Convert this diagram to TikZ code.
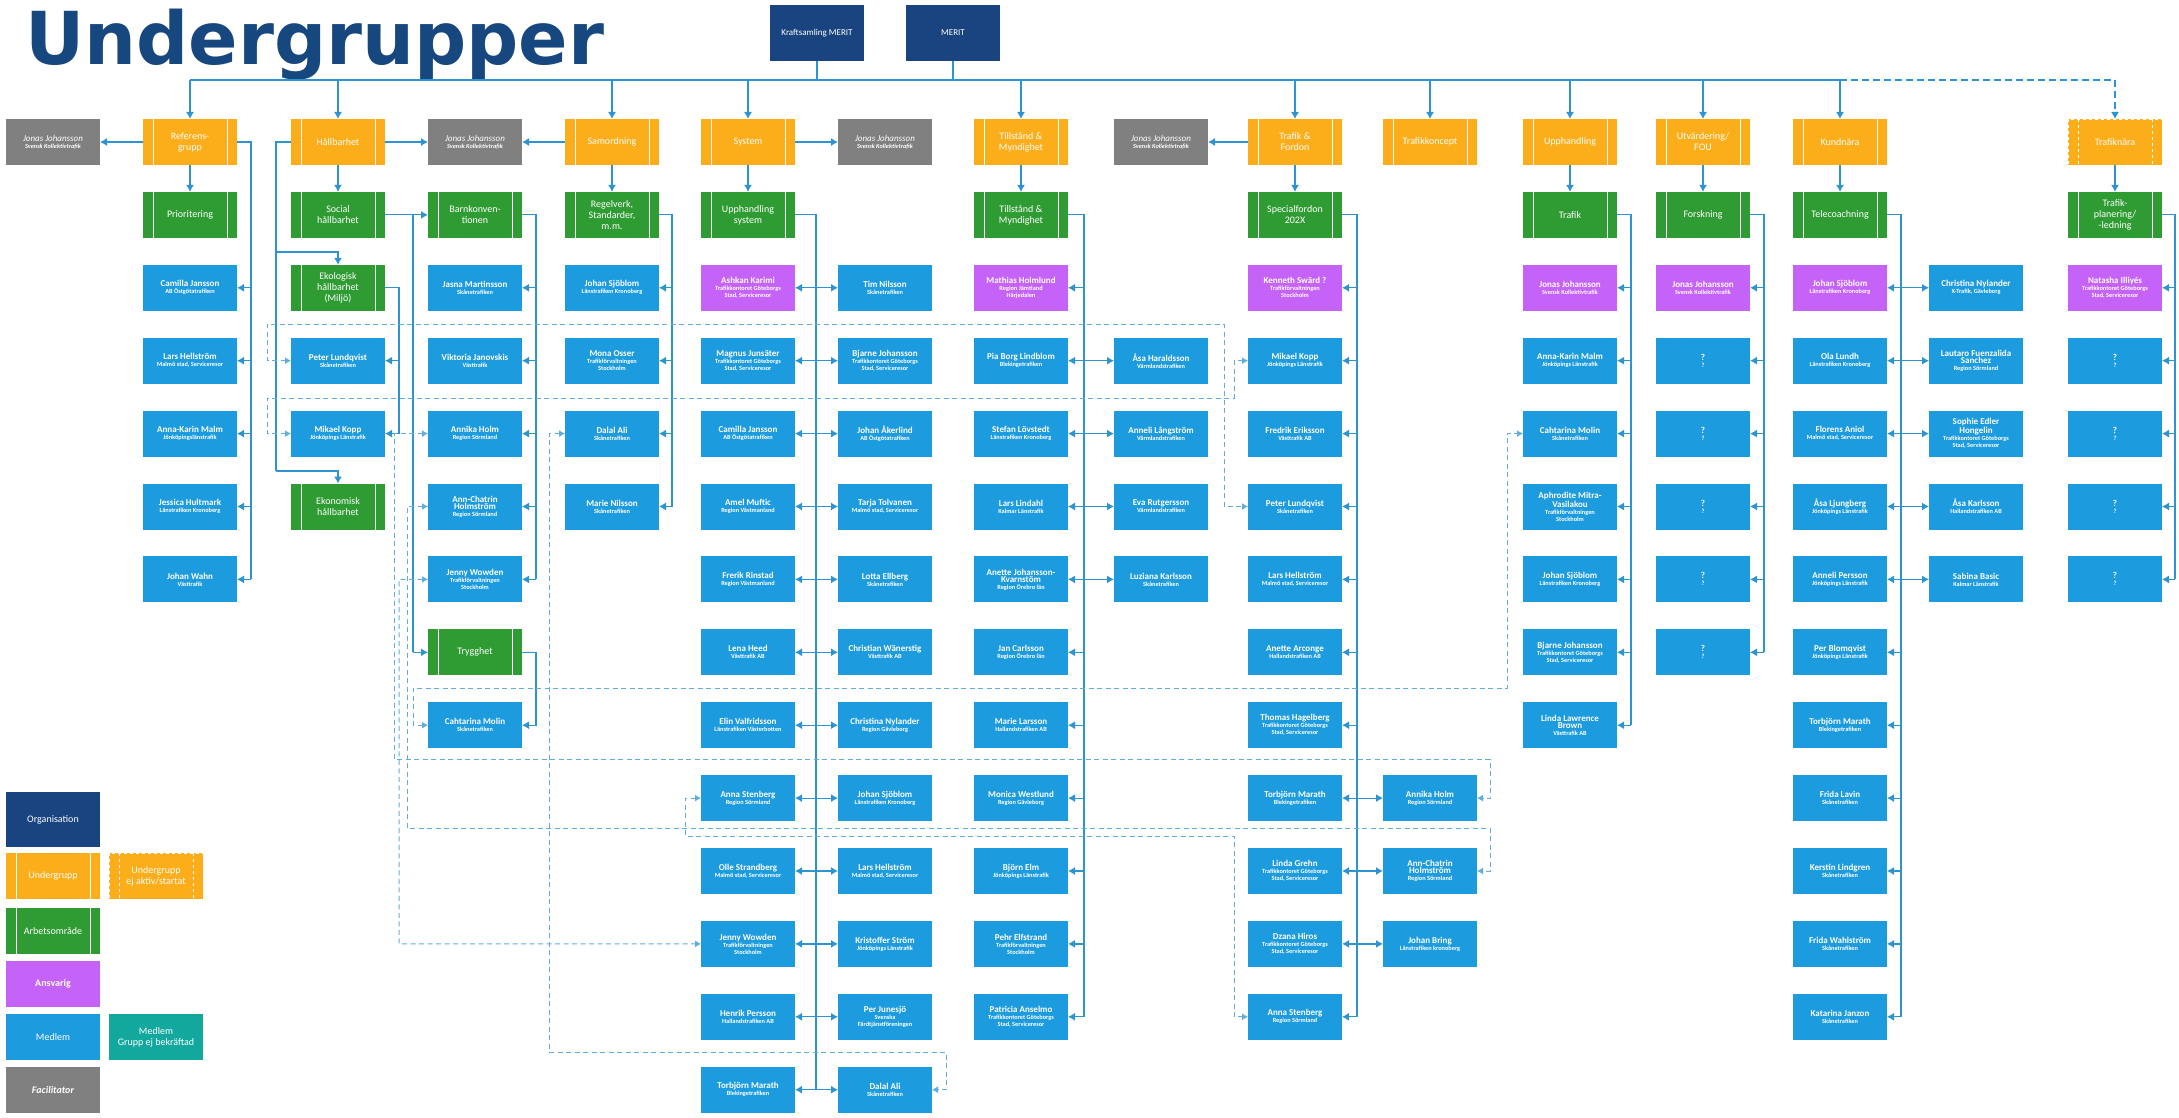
\documentclass[tikz,border=0pt]{standalone}
\usepackage{fontspec}
\setmainfont{Carlito}
\newfontfamily\titlefont{DejaVu Sans}
\usetikzlibrary{arrows.meta}

\definecolor{titleblue}{HTML}{17477F}
\definecolor{orgblue}{HTML}{1A4480}
\definecolor{undorange}{HTML}{FBAD1A}
\definecolor{areagreen}{HTML}{2F9B33}
\definecolor{leadpurple}{HTML}{C562F7}
\definecolor{memblue}{HTML}{1D9BDF}
\definecolor{memteal}{HTML}{13A89E}
\definecolor{facgray}{HTML}{808080}
\definecolor{lineblue}{HTML}{2E93D1}
\definecolor{linkblue}{HTML}{62ADE0}

\newcommand\nm{\fontsize{9}{10}\selectfont}

\begin{document}
\begin{tikzpicture}[x=1pt,y=-1pt,
  box/.style={rectangle,minimum width=94,minimum height=46,inner sep=1pt,outer sep=0pt,
    align=center,text=white,font=\bfseries\fontsize{6.3}{7}\selectfont},
  bars/.style={path picture={\draw[white,line width=.8pt,#1]
    ([xshift=10pt]path picture bounding box.north west) -- ([xshift=10pt]path picture bounding box.south west)
    ([xshift=-10pt]path picture bounding box.north east) -- ([xshift=-10pt]path picture bounding box.south east);}},
  grp/.style={box,fill=undorange,font=\fontsize{10}{11}\selectfont,bars=solid},
  grpoff/.style={box,fill=undorange,draw=white,dashed,line width=.8pt,font=\fontsize{10}{11}\selectfont,bars=dashed},
  area/.style={box,fill=areagreen,font=\fontsize{10}{11}\selectfont,bars=solid},
  mem/.style={box,fill=memblue},
  newmem/.style={box,fill=memteal,font=\fontsize{10}{11}\selectfont},
  lead/.style={box,fill=leadpurple},
  fac/.style={box,fill=facgray,font=\bfseries\itshape\fontsize{6.3}{7}\selectfont},
  orgbox/.style={box,fill=orgblue,minimum height=56,font=\fontsize{9}{10}\selectfont},
  line/.style={draw=lineblue,line width=1.2pt},
  arr/.style={line,-{Latex[length=7pt,width=8pt]}},
  dbl/.style={line,{Latex[length=7pt,width=8pt]}-{Latex[length=7pt,width=8pt]}},
  link/.style={draw=linkblue,line width=1pt,dash pattern=on 5pt off 3.5pt,
    {Latex[length=6pt,width=7pt]}-{Latex[length=6pt,width=7pt]}}]

\fill[white] (0,0) rectangle (2179,1118);
\useasboundingbox (0,0) rectangle (2179,1118);

% grid of columns and rows
\foreach \i/\x in {0/53,1/190,2/338,3/475,4/612,5/748,6/885,7/1021,8/1161,9/1295,10/1430,11/1570,12/1703,13/1840,14/1976,15/2115}
  \coordinate (c\i) at (\x,0);
\foreach \r in {0,...,13}
  \coordinate (r\r) at (0,{142+72.9*\r});
\coordinate (bus) at (0,80);
\foreach \s/\x in {1/251,2/276,2b/399,2c/413,3/536,4/672,5/816,7/1084,9/1357,11/1631,12/1764,13/1901,15/2175}
  \coordinate (sp\s) at (\x,0);

\node[anchor=base west,inner sep=0,text=titleblue,font=\titlefont\bfseries\fontsize{73}{73}\selectfont] (title) at (25,65) {Undergrupper};

% organisation
\node[orgbox] (kraft) at (817,33) {Kraftsamling MERIT};
\node[orgbox] (merit) at (953,33) {MERIT};

% undergrupper
\node[fac] (n0-0) at (c0|-r0) {\nm\mdseries Jonas Johansson\\Svensk Kollektivtrafik};
\node[grp] (n1-0) at (c1|-r0) {Referens-\\grupp};
\node[grp] (n2-0) at (c2|-r0) {Hållbarhet};
\node[fac] (n3-0) at (c3|-r0) {\nm\mdseries Jonas Johansson\\Svensk Kollektivtrafik};
\node[grp] (n4-0) at (c4|-r0) {Samordning};
\node[grp] (n5-0) at (c5|-r0) {System};
\node[fac] (n6-0) at (c6|-r0) {\nm\mdseries Jonas Johansson\\Svensk Kollektivtrafik};
\node[grp] (n7-0) at (c7|-r0) {Tillstånd \&\\Myndighet};
\node[fac] (n8-0) at (c8|-r0) {\nm\mdseries Jonas Johansson\\Svensk Kollektivtrafik};
\node[grp] (n9-0) at (c9|-r0) {Trafik \&\\Fordon};
\node[grp] (n10-0) at (c10|-r0) {Trafikkoncept};
\node[grp] (n11-0) at (c11|-r0) {Upphandling};
\node[grp] (n12-0) at (c12|-r0) {Utvärdering/\\FOU};
\node[grp] (n13-0) at (c13|-r0) {Kundnära};
\node[grpoff] (n15-0) at (c15|-r0) {Trafiknära};

% arbetsomraden
\node[area] (n1-1) at (c1|-r1) {Prioritering};
\node[area] (n2-1) at (c2|-r1) {Social\\hållbarhet};
\node[area] (n2-2) at (c2|-r2) {Ekologisk\\hållbarhet\\(Miljö)};
\node[area] (n2-5) at (c2|-r5) {Ekonomisk\\hållbarhet};
\node[area] (n3-1) at (c3|-r1) {Barnkonven-\\tionen};
\node[area] (n3-7) at (c3|-r7) {Trygghet};
\node[area] (n4-1) at (c4|-r1) {Regelverk,\\Standarder,\\m.m.};
\node[area] (n5-1) at (c5|-r1) {Upphandling\\system};
\node[area] (n7-1) at (c7|-r1) {Tillstånd \&\\Myndighet};
\node[area] (n9-1) at (c9|-r1) {Specialfordon\\202X};
\node[area] (n11-1) at (c11|-r1) {Trafik};
\node[area] (n12-1) at (c12|-r1) {Forskning};
\node[area] (n13-1) at (c13|-r1) {Telecoachning};
\node[area] (n15-1) at (c15|-r1) {Trafik-\\planering/\\-ledning};

% ansvariga
\node[lead] (n5-2) at (c5|-r2) {\nm Ashkan Karimi\\Trafikkontoret Göteborgs\\Stad, Serviceresor};
\node[lead] (n7-2) at (c7|-r2) {\nm Mathias Holmlund\\Region Jämtland\\Härjedalen};
\node[lead] (n9-2) at (c9|-r2) {\nm Kenneth Swärd ?\\Trafikförvaltningen\\Stockholm};
\node[lead] (n11-2) at (c11|-r2) {\nm Jonas Johansson\\Svensk Kollektivtrafik};
\node[lead] (n12-2) at (c12|-r2) {\nm Jonas Johansson\\Svensk Kollektivtrafik};
\node[lead] (n13-2) at (c13|-r2) {\nm Johan Sjöblom\\Länstrafiken Kronoberg};
\node[lead] (n15-2) at (c15|-r2) {\nm Natasha Illiyés\\Trafikkontoret Göteborgs\\Stad, Serviceresor};

% medlemmar
\foreach \r/\n/\o in {2/Camilla Jansson/AB Östgötatrafiken,3/Lars Hellström/{Malmö stad, Serviceresor},4/Anna-Karin Malm/Jönköpingslänstrafik,5/Jessica Hultmark/Länstrafiken Kronoberg,6/Johan Wahn/Västtrafik}
  \node[mem] (n1-\r) at (c1|-r\r) {\nm\n\\\o};
\foreach \r/\n/\o in {3/Peter Lundqvist/Skånetrafiken,4/Mikael Kopp/Jönköpings Länstrafik}
  \node[mem] (n2-\r) at (c2|-r\r) {\nm\n\\\o};
\foreach \r/\n/\o in {2/Jasna Martinsson/Skånetrafiken,3/Viktoria Janovskis/Västtrafik,4/Annika Holm/Region Sörmland,5/{Ann-Chatrin\\\nm Holmström}/Region Sörmland,6/Jenny Wowden/{Trafikförvaltningen\\Stockholm},8/Cahtarina Molin/Skånetrafiken}
  \node[mem] (n3-\r) at (c3|-r\r) {\nm\n\\\o};
\foreach \r/\n/\o in {2/Johan Sjöblom/Länstrafiken Kronoberg,3/Mona Osser/{Trafikförvaltningen\\Stockholm},4/Dalal Ali/Skånetrafiken,5/Marie Nilsson/Skånetrafiken}
  \node[mem] (n4-\r) at (c4|-r\r) {\nm\n\\\o};
\foreach \r/\n/\o in {3/Magnus Junsäter/{Trafikkontoret Göteborgs\\Stad, Serviceresor},4/Camilla Jansson/AB Östgötatrafiken,5/Amel Muftic/Region Västmanland,6/Frerik Rinstad/Region Västmanland,7/Lena Heed/Västtrafik AB,8/Elin Valfridsson/Länstrafiken Västerbotten,9/Anna Stenberg/Region Sörmland,10/Olle Strandberg/{Malmö stad, Serviceresor},11/Jenny Wowden/{Trafikförvaltningen\\Stockholm},12/Henrik Persson/Hallandstrafiken AB,13/Torbjörn Marath/Blekingetrafiken}
  \node[mem] (n5-\r) at (c5|-r\r) {\nm\n\\\o};
\foreach \r/\n/\o in {2/Tim Nilsson/Skånetrafiken,3/Bjarne Johansson/{Trafikkontoret Göteborgs\\Stad, Serviceresor},4/Johan Åkerlind/AB Östgötatrafiken,5/Tarja Tolvanen/{Malmö stad, Serviceresor},6/Lotta Ellberg/Skånetrafiken,7/Christian Wänerstig/Västtrafik AB,8/Christina Nylander/Region Gävleborg,9/Johan Sjöblom/Länstrafiken Kronoberg,10/Lars Hellström/{Malmö stad, Serviceresor},11/Kristoffer Ström/Jönköpings Länstrafik,12/Per Junesjö/{Svenska\\Färdtjänstföreningen},13/Dalal Ali/Skånetrafiken}
  \node[mem] (n6-\r) at (c6|-r\r) {\nm\n\\\o};
\foreach \r/\n/\o in {3/Pia Borg Lindblom/Blekingetrafiken,4/Stefan Lövstedt/Länstrafiken Kronoberg,5/Lars Lindahl/Kalmar Länstrafik,6/{Anette Johansson-\\\nm Kvarnstöm}/Region Örebro län,7/Jan Carlsson/Region Örebro län,8/Marie Larsson/Hallandstrafiken AB,9/Monica Westlund/Region Gävleborg,10/Björn Elm/Jönköpings Länstrafik,11/Pehr Elfstrand/{Trafikförvaltningen\\Stockholm},12/Patricia Anselmo/{Trafikkontoret Göteborgs\\Stad, Serviceresor}}
  \node[mem] (n7-\r) at (c7|-r\r) {\nm\n\\\o};
\foreach \r/\n/\o in {3/Åsa Haraldsson/Värmlandstrafiken,4/Anneli Långström/Värmlandstrafiken,5/Eva Rutgersson/Värmlandstrafiken,6/Luziana Karlsson/Skånetrafiken}
  \node[mem] (n8-\r) at (c8|-r\r) {\nm\n\\\o};
\foreach \r/\n/\o in {3/Mikael Kopp/Jönköpings Länstrafik,4/Fredrik Eriksson/Västtrafik AB,5/Peter Lundqvist/Skånetrafiken,6/Lars Hellström/{Malmö stad, Serviceresor},7/Anette Arconge/Hallandstrafiken AB,8/Thomas Hagelberg/{Trafikkontoret Göteborgs\\Stad, Serviceresor},9/Torbjörn Marath/Blekingetrafiken,10/Linda Grehn/{Trafikkontoret Göteborgs\\Stad, Serviceresor},11/Dzana Hiros/{Trafikkontoret Göteborgs\\Stad, Serviceresor},12/Anna Stenberg/Region Sörmland}
  \node[mem] (n9-\r) at (c9|-r\r) {\nm\n\\\o};
\foreach \r/\n/\o in {9/Annika Holm/Region Sörmland,10/{Ann-Chatrin\\\nm Holmström}/Region Sörmland,11/Johan Bring/Länstrafiken kronoberg}
  \node[mem] (n10-\r) at (c10|-r\r) {\nm\n\\\o};
\foreach \r/\n/\o in {3/Anna-Karin Malm/Jönköpings Länstrafik,4/Cahtarina Molin/Skånetrafiken,5/{Aphrodite Mitra-\\\nm Vasilakou}/{Trafikförvaltningen\\Stockholm},6/Johan Sjöblom/Länstrafiken Kronoberg,7/Bjarne Johansson/{Trafikkontoret Göteborgs\\Stad, Serviceresor},8/{Linda Lawrence\\\nm Brown}/Västtrafik AB}
  \node[mem] (n11-\r) at (c11|-r\r) {\nm\n\\\o};
\foreach \r in {3,...,7}
  \node[mem] (n12-\r) at (c12|-r\r) {\nm ?\\?};
\foreach \r/\n/\o in {3/Ola Lundh/Länstrafiken Kronoberg,4/Florens Aniol/{Malmö stad, Serviceresor},5/Åsa Ljungberg/Jönköpings Länstrafik,6/Anneli Persson/Jönköpings Länstrafik,7/Per Blomqvist/Jönköpings Länstrafik,8/Torbjörn Marath/Blekingetrafiken,9/Frida Lavin/Skånetrafiken,10/Kerstin Lindgren/Skånetrafiken,11/Frida Wahlström/Skånetrafiken,12/Katarina Janzon/Skånetrafiken}
  \node[mem] (n13-\r) at (c13|-r\r) {\nm\n\\\o};
\foreach \r/\n/\o in {2/Christina Nylander/{X-Trafik, Gävleborg},3/{Lautaro Fuenzalida\\\nm Sanchez}/Region Sörmland,4/{Sophie Edler\\\nm Hongelin}/{Trafikkontoret Göteborgs\\Stad, Serviceresor},5/Åsa Karlsson/Hallandstrafiken AB,6/Sabina Basic/Kalmar Länstrafik}
  \node[mem] (n14-\r) at (c14|-r\r) {\nm\n\\\o};
\foreach \r in {3,...,6}
  \node[mem] (n15-\r) at (c15|-r\r) {\nm ?\\?};

% forklaring
\node[orgbox,minimum height=55,font=\fontsize{10}{11}\selectfont] (lg-org) at (53,819.5) {Organisation};
\node[grp] (lg-grp) at (53,876) {Undergrupp};
\node[grpoff] (lg-off) at (156,876) {Undergrupp\\ej aktiv/startat};
\node[area] (lg-area) at (53,930.5) {Arbetsområde};
\node[lead,font=\bfseries\fontsize{10}{11}\selectfont] (lg-lead) at (53,983.5) {Ansvarig};
\node[mem,font=\fontsize{10}{11}\selectfont] (lg-mem) at (53,1037) {Medlem};
\node[newmem] (lg-new) at (156,1037) {Medlem\\Grupp ej bekräftad};
\node[fac,font=\bfseries\itshape\fontsize{10}{11}\selectfont] (lg-fac) at (53,1090) {Facilitator};

% from MERIT to the groups
\draw[line] (kraft.south) -- (kraft|-bus);
\draw[line] (merit.south) -- (merit|-bus);
\draw[line] (c1|-bus) -- (c13|-bus);
\draw[line,dash pattern=on 7pt off 4pt] (c13|-bus) -- (c15|-bus);
\foreach \c in {1,2,4,5,7,9,10,11,12,13}
  \draw[arr] (c\c|-bus) -- (n\c-0.north);
\draw[arr,dash pattern=on 7pt off 4pt] (c15|-bus) -- (n15-0.north);

% facilitators and areas
\draw[arr] (n1-0.west) -- (n0-0.east);
\draw[arr] (n2-0.east) -- (n3-0.west);
\draw[arr] (n4-0.west) -- (n3-0.east);
\draw[arr] (n5-0.east) -- (n6-0.west);
\draw[arr] (n9-0.west) -- (n8-0.east);
\foreach \c in {1,2,4,5,7,9,11,12,13,15}
  \draw[arr] (n\c-0) -- (n\c-1);

% Referensgrupp
\draw[line] (n1-0.east) -- (sp1|-n1-0) -- (sp1|-n1-6);
\foreach \r in {2,...,6}
  \draw[arr] (sp1|-n1-\r) -- (n1-\r.east);
% Hallbarhet
\draw[line] (n2-0.west) -- (sp2|-n2-0) -- (276,471);
\draw[arr] (276,252) -| (n2-2.north);
\draw[arr] (276,471) -| (n2-5.north);
\draw[line] (n2-2.east) -- (sp2b|-n2-2) -- (sp2b|-n2-4);
\foreach \r in {3,4}
  \draw[arr] (sp2b|-n2-\r) -- (n2-\r.east);
\draw[line] (n2-1.east) -- (sp2c|-n2-1) -- (sp2c|-n3-7);
\draw[arr] (sp2c|-n3-1) -- (n3-1.west);
\draw[arr] (sp2c|-n3-7) -- (n3-7.west);
\draw[line] (n3-1.east) -- (sp3|-n3-1) -- (sp3|-n3-6);
\foreach \r in {2,...,6}
  \draw[arr] (sp3|-n3-\r) -- (n3-\r.east);
\draw[arr] (n3-7.east) -- (sp3|-n3-7) |- (n3-8.east);
% Samordning
\draw[line] (n4-1.east) -- (sp4|-n4-1) -- (sp4|-n4-5);
\foreach \r in {2,...,5}
  \draw[arr] (sp4|-n4-\r) -- (n4-\r.east);
% System
\draw[line] (n5-1.east) -- (sp5|-n5-1) -- (sp5|-n5-13);
\foreach \r in {2,...,13}
  \draw[dbl] (n5-\r.east) -- (n6-\r.west);
% Tillstand
\draw[line] (n7-1.east) -- (sp7|-n7-1) -- (sp7|-n7-12);
\foreach \r in {2,7,8,9,10,11,12}
  \draw[arr] (sp7|-n7-\r) -- (n7-\r.east);
\foreach \r in {3,...,6}
  \draw[dbl] (n7-\r.east) -- (n8-\r.west);
% Trafik & Fordon
\draw[line] (n9-1.east) -- (sp9|-n9-1) -- (sp9|-n9-12);
\foreach \r in {2,3,4,5,6,7,8,12}
  \draw[arr] (sp9|-n9-\r) -- (n9-\r.east);
\foreach \r in {9,10,11}
  \draw[dbl] (n9-\r.east) -- (n10-\r.west);
% Upphandling, FOU, Kundnara, Trafiknara
\draw[line] (n11-1.east) -- (sp11|-n11-1) -- (sp11|-n11-8);
\foreach \r in {2,...,8}
  \draw[arr] (sp11|-n11-\r) -- (n11-\r.east);
\draw[line] (n12-1.east) -- (sp12|-n12-1) -- (sp12|-n12-7);
\foreach \r in {2,...,7}
  \draw[arr] (sp12|-n12-\r) -- (n12-\r.east);
\draw[line] (n13-1.east) -- (sp13|-n13-1) -- (sp13|-n13-12);
\foreach \r in {7,...,12}
  \draw[arr] (sp13|-n13-\r) -- (n13-\r.east);
\foreach \r in {2,...,6}
  \draw[dbl] (n13-\r.east) -- (n14-\r.west);
\draw[line] (n15-1.east) -- (sp15|-n15-1) -- (sp15|-n15-6);
\foreach \r in {2,...,6}
  \draw[arr] (sp15|-n15-\r) -- (n15-\r.east);

% same person in two groups
\draw[link] (n2-3.west) -| (267,324) -- (1224,324) |- (n9-5.west);
\draw[link] (n2-4.west) -| (267,398) -- (1234,398) |- (n9-3.west);
\draw[link] (n3-4.west) -| (394,759) -- (1490,759) |- (n10-9.east);
\draw[link] (n3-5.west) -| (407,828) -- (1490,828) |- (n10-10.east);
\draw[link] (n3-6.west) -| (399,943.9) -- (n5-11.west);
\draw[link] (n3-8.west) -| (413,688) -- (1507,688) |- (n11-4.west);
\draw[link] (n4-4.west) -| (549,1052) -- (946,1052) |- (n6-13.east);
\draw[link] (n5-9.west) -| (685,836) -- (1234,836) |- (n9-12.west);
\end{tikzpicture}
\end{document}
